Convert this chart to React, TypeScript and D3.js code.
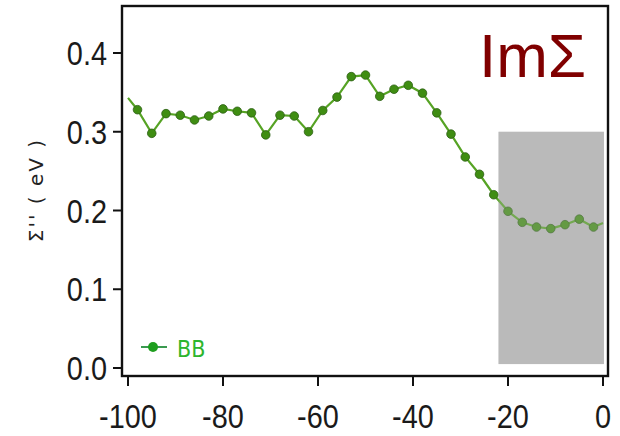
import React, { useEffect, useRef } from "react";
import * as d3 from "d3";

// binding energy (meV) and Im Sigma (eV)
const energy = [
  -100, -98, -95, -92, -89, -86, -83, -80, -77, -74, -71, -68, -65, -62, -59, -56, -53,
  -50, -47, -44, -41, -38, -35, -32, -29, -26, -23, -20, -17, -14, -11, -8, -5, -2, 0,
];
const imSigma = [
  0.343, 0.328, 0.298, 0.323, 0.321, 0.315, 0.32, 0.329, 0.326, 0.324, 0.296, 0.321,
  0.32, 0.3, 0.327, 0.344, 0.37, 0.372, 0.345, 0.354, 0.359, 0.349, 0.324, 0.297,
  0.268, 0.246, 0.22, 0.199, 0.185, 0.179, 0.177, 0.182, 0.189, 0.179, 0.184,
];
const xTicks = [-100, -80, -60, -40, -20, 0];
const yTicks = [0, 0.1, 0.2, 0.3, 0.4];
// shaded window
const shadeX = [-22, 0.2];
const shadeY = [0.005, 0.3];

export default function App() {
  const ref = useRef<SVGSVGElement>(null);

  useEffect(() => {
    const svg = d3.select(ref.current);
    svg.selectAll("*").remove();

    const x = d3.scaleLinear().domain([-100, 0]).range([128, 603]);
    const y = d3.scaleLinear().domain([0, 0.4]).range([368, 53]);
    const left = 122, right = 608, top = 6, bottom = 376;

    svg.append("rect").attr("width", 620).attr("height", 436).attr("fill", "#ffffff");

    // grey window (under the curve)
    const shade = () =>
      svg.append("rect")
        .attr("x", x(shadeX[0]))
        .attr("y", y(shadeY[1]))
        .attr("width", x(shadeX[1]) - x(shadeX[0]))
        .attr("height", y(shadeY[0]) - y(shadeY[1]))
        .attr("fill", "#bbbbbb");
    shade();

    const pts = energy.map((e, i) => ({ e, v: imSigma[i] }));

    svg.append("path")
      .datum(pts)
      .attr("d", d3.line<{ e: number; v: number }>().x(d => x(d.e)).y(d => y(d.v)))
      .attr("fill", "none")
      .attr("stroke", "#56a324")
      .attr("stroke-width", 2.2);

    // markers on all but the end points
    svg.selectAll(".dot")
      .data(pts.slice(1, -1))
      .enter().append("circle")
      .attr("class", "dot")
      .attr("cx", d => x(d.e))
      .attr("cy", d => y(d.v))
      .attr("r", 4.3)
      .attr("fill", "#3f8d12")
      .attr("stroke", "#2c5e14")
      .attr("stroke-width", 0.8);

    // the window sits partly over the markers
    shade().attr("opacity", 0.3);

    // frame
    svg.append("rect")
      .attr("x", left).attr("y", top)
      .attr("width", right - left).attr("height", bottom - top)
      .attr("fill", "none")
      .attr("stroke", "#111")
      .attr("stroke-width", 2.4);

    const tickFont = "'Liberation Sans', Arial, sans-serif";

    // y ticks and labels
    const yg = svg.append("g");
    yTicks.forEach(t => {
      yg.append("line")
        .attr("x1", 113).attr("x2", left)
        .attr("y1", y(t)).attr("y2", y(t))
        .attr("stroke", "#111").attr("stroke-width", 2);
      yg.append("text")
        .attr("transform", `translate(107,${y(t) + 12}) scale(0.85,1)`)
        .attr("text-anchor", "end")
        .style("font-family", tickFont)
        .style("font-size", "34px")
        .attr("fill", "#1a1a1a")
        .text(d3.format(".1f")(t));
    });

    // x ticks and labels
    const xg = svg.append("g");
    xTicks.forEach(t => {
      xg.append("line")
        .attr("x1", x(t)).attr("x2", x(t))
        .attr("y1", bottom).attr("y2", 386)
        .attr("stroke", "#111").attr("stroke-width", 2);
      xg.append("text")
        .attr("transform", `translate(${x(t)},428) scale(0.85,1)`)
        .attr("text-anchor", "middle")
        .style("font-family", tickFont)
        .style("font-size", "34px")
        .attr("fill", "#1a1a1a")
        .text(t);
    });

    // y axis title
    svg.append("text")
      .attr("transform", "translate(43,190) rotate(-90)")
      .attr("text-anchor", "middle")
      .style("font-family", "'DejaVu Sans', sans-serif")
      .style("font-size", "20px")
      .style("letter-spacing", "2px")
      .attr("fill", "#222")
      .text("\u03A3'' ( eV )");

    // big label
    svg.append("text")
      .attr("x", 479).attr("y", 77)
      .style("font-family", "'Liberation Sans', Arial, sans-serif")
      .style("font-size", "62px")
      .attr("fill", "#800000")
      .text("Im\u03A3");

    // legend
    svg.append("line")
      .attr("x1", 141).attr("x2", 167).attr("y1", 347).attr("y2", 347)
      .attr("stroke", "#3a9a50").attr("stroke-width", 2);
    svg.append("circle")
      .attr("cx", 153).attr("cy", 347).attr("r", 5)
      .attr("fill", "#1e9e1e");
    svg.append("text")
      .attr("x", 177).attr("y", 357)
      .style("font-family", "'DejaVu Sans Condensed', 'DejaVu Sans', sans-serif")
      .style("font-size", "23px")
      .attr("fill", "#2db52d")
      .text("BB");
  }, []);

  return (
    <svg ref={ref} width={620} height={436}
      style={{ position: "absolute", left: 0, top: 0, display: "block" }} />
  );
}
